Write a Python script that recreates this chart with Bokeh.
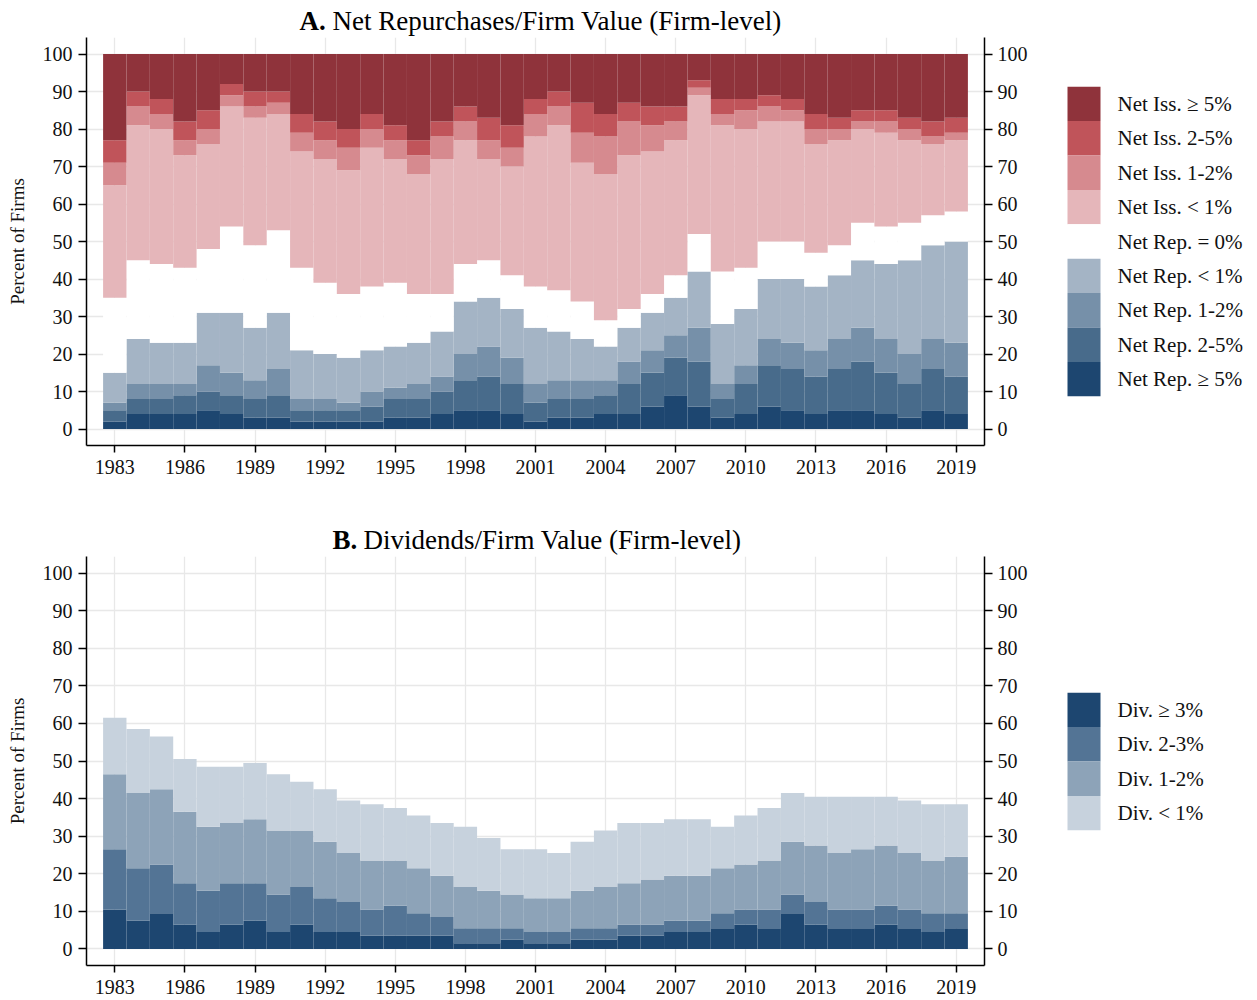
from bokeh.plotting import figure
from bokeh.models import Range1d, FixedTicker, LinearAxis, ColumnDataSource
from bokeh.core.properties import value
from bokeh.layouts import column, row
from bokeh.embed import file_html
from bokeh.resources import INLINE

years = list(range(1983, 2020))

# ---------------- Panel A: shares of firms (%) by net repurchase / issuance bucket
net_rep_ge5 = [2, 4, 4, 4, 5, 4, 3, 3, 2, 2, 2, 2, 3, 3, 4, 5, 5, 4, 2, 3, 3, 4, 4, 6, 9,
               6, 3, 4, 6, 5, 4, 5, 5, 4, 3, 5, 4]
net_rep_2_5 = [3, 4, 4, 5, 5, 5, 5, 6, 3, 3, 3, 4, 5, 5, 6, 8, 9, 8, 5, 5, 5, 5, 8, 9, 10,
               12, 5, 8, 11, 11, 10, 11, 13, 11, 9, 11, 10]
net_rep_1_2 = [2, 4, 4, 3, 7, 6, 5, 7, 3, 3, 2, 4, 3, 4, 4, 7, 8, 7, 5, 5, 5, 4, 6, 6, 6,
               9, 4, 5, 7, 7, 7, 8, 9, 9, 8, 8, 9]
net_rep_lt1 = [8, 12, 11, 11, 14, 16, 14, 15, 13, 12, 12, 11, 11, 11, 12, 14, 13, 13, 15, 13, 11, 9, 9, 10, 10,
               15, 16, 15, 16, 17, 17, 17, 18, 20, 25, 25, 27]
net_rep_0 = [20, 21, 21, 20, 17, 23, 22, 22, 22, 19, 17, 17, 17, 13, 10, 10, 10, 9, 11, 11, 10, 7, 5, 5, 6,
             10, 14, 11, 10, 10, 9, 8, 10, 10, 10, 8, 8]
net_iss_lt1 = [30, 36, 36, 30, 28, 32, 34, 31, 31, 33, 33, 37, 33, 32, 36, 33, 27, 29, 40, 44, 37, 39, 41, 38, 36,
               37, 39, 37, 32, 32, 29, 28, 25, 25, 22, 19, 19]
net_iss_1_2 = [6, 5, 4, 4, 4, 3, 3, 3, 5, 5, 6, 5, 5, 5, 6, 5, 5, 5, 6, 5, 8, 10, 9, 7, 5,
               2, 3, 5, 4, 3, 4, 3, 2, 3, 3, 2, 2]
net_iss_2_5 = [6, 4, 4, 5, 5, 3, 4, 3, 5, 5, 5, 4, 4, 4, 4, 4, 6, 6, 4, 4, 8, 6, 5, 5, 4,
               2, 4, 3, 3, 3, 4, 3, 3, 3, 3, 4, 4]
net_iss_ge5 = [23, 10, 12, 18, 15, 8, 10, 10, 16, 18, 20, 16, 19, 23, 18, 14, 17, 19, 12, 10, 13, 16, 13, 14, 14,
               7, 12, 12, 11, 12, 16, 17, 15, 15, 17, 18, 17]

# ---------------- Panel B: shares of firms (%) by dividend yield bucket
div_ge3 = [10.5, 7.5, 9.5, 6.5, 4.5, 6.5, 7.5, 4.5, 6.5, 4.5, 4.5, 3.5, 3.5, 3.5, 3.5, 1.5, 1.5, 2.5, 1.5,
           1.5, 2.5, 2.5, 3.5, 3.5, 4.5, 4.5, 5.5, 6.5, 5.5, 9.5, 6.5, 5.5, 5.5, 6.5, 5.5, 4.5, 5.5]
div_2_3 = [16, 14, 13, 11, 11, 11, 10, 10, 10, 9, 8, 7, 8, 6, 5, 4, 4, 3, 3,
           3, 3, 3, 3, 3, 3, 3, 4, 4, 5, 5, 6, 5, 5, 5, 5, 5, 4]
div_1_2 = [20, 20, 20, 19, 17, 16, 17, 17, 15, 15, 13, 13, 12, 12, 11, 11, 10, 9, 9,
           9, 10, 11, 11, 12, 12, 12, 12, 12, 13, 14, 15, 15, 16, 16, 15, 14, 15]
div_lt1 = [15, 17, 14, 14, 16, 15, 15, 15, 13, 14, 14, 15, 14, 14, 14, 16, 14, 12, 13,
           12, 13, 15, 16, 15, 15, 15, 11, 13, 14, 13, 13, 15, 14, 13, 14, 15, 14]

labels_a = ["Net Rep. \u2265 5%", "Net Rep. 2-5%", "Net Rep. 1-2%", "Net Rep. < 1%",
            "Net Rep. = 0%", "Net Iss. < 1%", "Net Iss. 1-2%", "Net Iss. 2-5%",
            "Net Iss. \u2265 5%"]
labels_b = ["Div. \u2265 3%", "Div. 2-3%", "Div. 1-2%", "Div. < 1%"]

x_ticks = list(range(1983, 2020, 3))
y_ticks = list(range(0, 101, 10))

colors_a = ["#1D4670", "#486B8B", "#7690A9", "#A4B4C5", "#FFFFFF",
            "#E5B6BA", "#D68A8F", "#C0545A", "#8F333B"]
colors_b = ["#1D4670", "#537495", "#8DA3B8", "#C7D2DD"]

FONT = "Liberation Serif"
X0, X1 = 1981.79, 2020.21
Y0, Y1 = -4.4, 104.4
FW = 898
LEFT, RIGHT = 86, 60
LEG_W = 206
TOTAL_W = LEFT + FW + RIGHT + LEG_W


def style_axis(ax, ticks, tick_out, standoff):
    ax.ticker = FixedTicker(ticks=ticks)
    ax.axis_line_color = "black"
    ax.axis_line_width = 1.5
    ax.major_tick_line_color = "black"
    ax.major_tick_line_width = 1.5
    ax.major_tick_in = 0
    ax.major_tick_out = tick_out
    ax.minor_tick_line_color = None
    ax.major_label_text_font = FONT
    ax.major_label_text_font_size = "20px"
    ax.major_label_text_color = "#111111"
    ax.major_label_standoff = standoff


def title_fig(height, bold, rest, x_bold, x_rest, mid):
    t = figure(frame_width=FW, frame_height=height, x_range=Range1d(0, FW),
               y_range=Range1d(0, height), x_axis_type=None, y_axis_type=None,
               output_backend="svg", toolbar_location=None,
               min_border=0, min_border_left=LEFT,
               min_border_right=TOTAL_W - LEFT - FW,
               background_fill_color="white", border_fill_color="white")
    t.outline_line_color = None
    t.grid.visible = False
    t.text(x=[x_bold], y=[mid], text=[bold], text_font=value(FONT),
           text_font_size="27px", text_font_style="bold", text_align="left",
           text_baseline="middle", text_color="black")
    t.text(x=[x_rest], y=[mid], text=[rest], text_font=value(FONT),
           text_font_size="27px", text_font_style="normal", text_align="left",
           text_baseline="middle", text_color="black")
    return t


def make_panel(names, values, colors, fh, bottom):
    data = dict(year=years)
    for n, v in zip(names, values):
        data[n] = v
    src = ColumnDataSource(data)
    p = figure(frame_width=FW, frame_height=fh,
               x_range=Range1d(X0, X1), y_range=Range1d(Y0, Y1),
               output_backend="svg", toolbar_location=None,
               min_border_left=LEFT, min_border_right=RIGHT,
               min_border_top=0, min_border_bottom=bottom,
               background_fill_color="white", border_fill_color="white")
    p.outline_line_color = None

    p.vbar_stack(names, x="year", width=1.0, fill_color=colors,
                 line_color=None, source=src)

    style_axis(p.xaxis[0], x_ticks, 7, 7)
    style_axis(p.yaxis[0], y_ticks, 8, 6)
    p.yaxis[0].axis_label = "Percent of Firms"
    p.yaxis[0].axis_label_text_font = FONT
    p.yaxis[0].axis_label_text_font_size = "19px"
    p.yaxis[0].axis_label_text_font_style = "normal"
    p.yaxis[0].axis_label_text_color = "#111111"
    p.yaxis[0].axis_label_standoff = 12

    right = LinearAxis()
    style_axis(right, y_ticks, 8, 5)
    p.add_layout(right, "right")

    p.xgrid.ticker = FixedTicker(ticks=x_ticks)
    p.ygrid.ticker = FixedTicker(ticks=y_ticks)
    p.grid.grid_line_color = "#E8E8E8"
    p.grid.grid_line_width = 1.3
    return p


def legend_fig(colors, labels, total_h, center_from_top):
    """Legend drawn as swatches + labels, top-to-bottom in the given order."""
    lf = figure(frame_width=LEG_W, frame_height=total_h, x_range=Range1d(0, LEG_W),
                y_range=Range1d(0, total_h), x_axis_type=None, y_axis_type=None,
                output_backend="svg", toolbar_location=None, min_border=0,
                background_fill_color="white", border_fill_color="white")
    lf.outline_line_color = None
    lf.grid.visible = False
    n = len(labels)
    pitch = 34.4
    top0 = total_h - center_from_top + n * pitch / 2
    tops = [top0 - i * pitch for i in range(n)]
    src = ColumnDataSource(dict(
        top=tops, bottom=[t - pitch for t in tops],
        left=[23] * n, right=[56] * n, color=colors,
        ty=[t - pitch / 2 for t in tops], tx=[73] * n, label=labels))
    lf.quad(left="left", right="right", top="top", bottom="bottom",
            fill_color="color", line_color=None, source=src)
    lf.text(x="tx", y="ty", text="label", source=src, text_font=value(FONT),
            text_font_size="21px", text_align="left", text_baseline="middle",
            text_color="#111111")
    return lf


names_a = ["rep5", "rep25", "rep12", "rep1", "rep0", "iss1", "iss12", "iss25", "iss5"]
vals_a = [net_rep_ge5, net_rep_2_5, net_rep_1_2, net_rep_lt1, net_rep_0,
          net_iss_lt1, net_iss_1_2, net_iss_2_5, net_iss_ge5]
names_b = ["d3", "d23", "d12", "d1"]
vals_b = [div_ge3, div_2_3, div_1_2, div_lt1]

ta = title_fig(37, "A.", "Net Repurchases/Firm Value (Firm-level)", 213, 246, 17)
pa = make_panel(names_a, vals_a, colors_a, 408, 55)
la = legend_fig(colors_a[::-1], labels_a[::-1], 408 + 55, 204)

tb = title_fig(56, "B.", "Dividends/Firm Value (Firm-level)", 246, 277, 17)
pb = make_panel(names_b, vals_b, colors_b, 409, 35)
lb = legend_fig(colors_b, labels_b, 409 + 35, 205)

layout = column(ta, row(pa, la, spacing=0), tb, row(pb, lb, spacing=0), spacing=0)
open("out.html", "w").write(file_html(layout, INLINE))
